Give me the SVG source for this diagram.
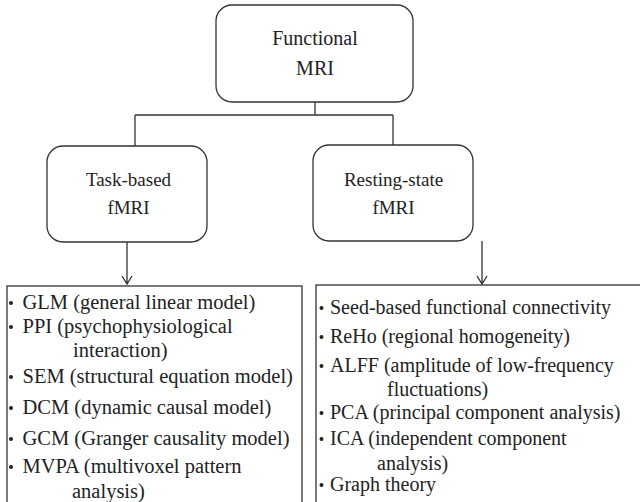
<svg xmlns="http://www.w3.org/2000/svg" width="640" height="502" viewBox="0 0 640 502">
<rect width="640" height="502" fill="#fff"/>
<g id="connectors" fill="none" stroke="#333" stroke-width="1.3">
<path d="M315,102 V115 M135,115 H393 M135,115 V146 M393,115 V145"/>
<path d="M127,242 V284 M122,276 L127,284 L132,276"/>
<path d="M482,241 V284 M477,276 L482,284 L487,276"/>
</g>
<g id="functional-mri">
<rect x="216" y="5" width="197" height="97" rx="16" fill="#fff" stroke="#333" stroke-width="1.3"/>
<text x="315" y="45" font-family="Liberation Serif" font-size="20" fill="#222" text-anchor="middle">Functional</text>
<text x="315" y="75" font-family="Liberation Serif" font-size="20" fill="#222" text-anchor="middle">MRI</text>
</g>
<g id="task-based">
<rect x="47" y="146" width="160" height="96" rx="16" fill="#fff" stroke="#333" stroke-width="1.3"/>
<text x="128.5" y="186" font-family="Liberation Serif" font-size="19" fill="#222" text-anchor="middle">Task-based</text>
<text x="128.5" y="214" font-family="Liberation Serif" font-size="19" fill="#222" text-anchor="middle">fMRI</text>
</g>
<g id="resting-state">
<rect x="313" y="145" width="160" height="96" rx="16" fill="#fff" stroke="#333" stroke-width="1.3"/>
<text x="393.5" y="186" font-family="Liberation Serif" font-size="19" fill="#222" text-anchor="middle">Resting-state</text>
<text x="393.5" y="214" font-family="Liberation Serif" font-size="19" fill="#222" text-anchor="middle">fMRI</text>
</g>
<g id="task-methods">
<rect x="7" y="286" width="295" height="230" fill="#fff" stroke="#333" stroke-width="1.3"/>
<g fill="#222">
<circle cx="11" cy="303" r="2"/><circle cx="11" cy="327" r="2"/><circle cx="11" cy="377" r="2"/>
<circle cx="11" cy="408" r="2"/><circle cx="11" cy="439" r="2"/><circle cx="11" cy="467" r="2"/>
</g>
<text x="22.5" y="309" font-family="Liberation Serif" font-size="20.5" fill="#222">GLM (general linear model)</text>
<text x="22.5" y="333" font-family="Liberation Serif" font-size="20.5" fill="#222">PPI (psychophysiological</text>
<text x="73" y="357" font-family="Liberation Serif" font-size="20.5" fill="#222">interaction)</text>
<text x="22.5" y="383" font-family="Liberation Serif" font-size="20.5" fill="#222">SEM (structural equation model)</text>
<text x="22.5" y="414" font-family="Liberation Serif" font-size="20.5" fill="#222">DCM (dynamic causal model)</text>
<text x="22.5" y="445" font-family="Liberation Serif" font-size="20.5" fill="#222">GCM (Granger causality model)</text>
<text x="22.5" y="473" font-family="Liberation Serif" font-size="20.5" fill="#222">MVPA (multivoxel pattern</text>
<text x="72" y="498" font-family="Liberation Serif" font-size="20.5" fill="#222">analysis)</text>
</g>
<g id="rest-methods">
<rect x="316" y="285" width="340" height="230" fill="#fff" stroke="#333" stroke-width="1.3"/>
<g fill="#222">
<circle cx="321.5" cy="308" r="2"/><circle cx="321.5" cy="337" r="2"/><circle cx="321.5" cy="366" r="2"/>
<circle cx="321.5" cy="413" r="2"/><circle cx="321.5" cy="439" r="2"/><circle cx="321.5" cy="485" r="2"/>
</g>
<text x="330" y="314" font-family="Liberation Serif" font-size="20" fill="#222">Seed-based functional connectivity</text>
<text x="330" y="343" font-family="Liberation Serif" font-size="20" fill="#222">ReHo (regional homogeneity)</text>
<text x="330" y="372" font-family="Liberation Serif" font-size="20" fill="#222">ALFF (amplitude of low-frequency</text>
<text x="387" y="396" font-family="Liberation Serif" font-size="20" fill="#222">fluctuations)</text>
<text x="330" y="419" font-family="Liberation Serif" font-size="20" fill="#222">PCA (principal component analysis)</text>
<text x="330" y="445" font-family="Liberation Serif" font-size="20" fill="#222">ICA (independent component</text>
<text x="377" y="470" font-family="Liberation Serif" font-size="20" fill="#222">analysis)</text>
<text x="330" y="491" font-family="Liberation Serif" font-size="20" fill="#222">Graph theory</text>
</g>
</svg>
